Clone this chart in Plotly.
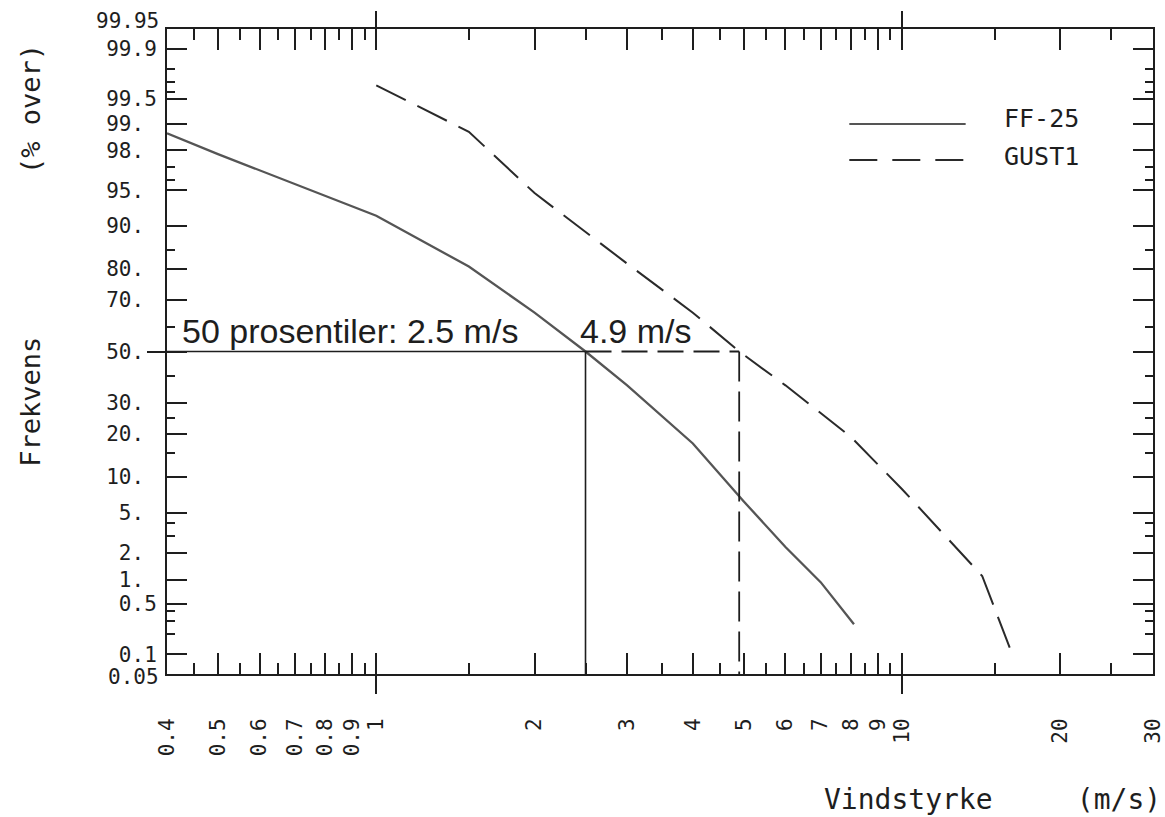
import math
from statistics import NormalDist
import plotly.graph_objects as go

# Wind speed (m/s) against exceedance frequency (% over)
ff25_speed = [0.4, 0.5, 1.0, 1.5, 2.0, 2.5, 3.0, 4.0, 5.0, 6.0, 7.0, 8.1]
ff25_over = [98.7, 97.8, 91.7, 80.7, 65.4, 50.0, 36.5, 17.4, 6.3, 2.3, 0.93, 0.27]

gust_speed = [1.0, 1.5, 2.0, 3.0, 4.0, 4.9, 6.0, 8.0, 10.0, 12.0, 14.2, 16.2]
gust_over = [99.67, 98.75, 94.7, 81.5, 65.4, 50.0, 36.5, 19.1, 8.0, 3.1, 1.1, 0.1]

# 50th percentiles
median_level = 50.0
ff25_median = 2.5
gust_median = 4.9

# Probability axis ticks
y_ticks = [99.95, 99.9, 99.5, 99, 98, 95, 90, 80, 70, 50, 30, 20, 10, 5, 2, 1, 0.5, 0.1, 0.05]
y_ticktext = ["99.95", "99.9", "99.5", "99.", "98.", "95.", "90.", "80.", "70.", "50.",
              "30.", "20.", "10.", "5.", "2.", "1.", "0.5", "0.1", "0.05"]
y_minor = [99.8, 99.7, 99.6, 97, 96, 85, 60, 40, 25, 15, 4, 3, 0.4, 0.3, 0.2]

# Logarithmic wind speed axis ticks
x_ticks = [0.4, 0.5, 0.6, 0.7, 0.8, 0.9, 1, 2, 3, 4, 5, 6, 7, 8, 9, 10, 20, 30]
x_ticktext = ["0.4", "0.5", "0.6", "0.7", "0.8", "0.9", "1", "2", "3", "4", "5", "6",
              "7", "8", "9", "10", "20", "30"]
x_minor = [0.45, 0.55, 0.65, 0.75, 0.85, 0.95, 1.5, 2.5, 3.5, 4.5, 5.5, 6.5, 7.5,
           8.5, 9.5, 15, 25]
x_decades = [1, 10]

nd = NormalDist()


def probit(p):
    return nd.inv_cdf(p / 100.0)


def probit_list(values):
    return [probit(v) for v in values]


INK = "#1e1e1e"
PLOT_FONT = "DejaVu Sans Mono"
NB = "\u00a0"
EPS = 1e-6

y_lo, y_hi = probit(0.05), probit(99.95)
x_range = [math.log10(0.4) - EPS, math.log10(30) + EPS]
y_range = [y_lo - EPS, y_hi + EPS]


def cell_label(text):
    # labels ending in a decimal point keep a blank cell after the point
    return text + NB if text.endswith(".") else text


# the two end labels sit just off the frame and are placed separately
end_labels = {y_ticks[0]: y_ticktext[0], y_ticks[-1]: y_ticktext[-1]}
axis_ticktext = ["" if v in end_labels else cell_label(t) for v, t in zip(y_ticks, y_ticktext)]

fig = go.Figure()

fig.add_trace(go.Scatter(
    x=ff25_speed, y=probit_list(ff25_over), mode="lines", name="FF-25",
    line=dict(color="#555555", width=2.3), showlegend=False,
))
fig.add_trace(go.Scatter(
    x=gust_speed, y=probit_list(gust_over), mode="lines", name="GUST1",
    line=dict(color="#2a2a2a", width=2, dash="33px,13px"), showlegend=False,
))

# Guide lines for the 50 % level
z50 = probit(median_level)
fig.add_trace(go.Scatter(x=[0.4, ff25_median], y=[z50, z50], mode="lines",
                         line=dict(color=INK, width=1.6), showlegend=False, hoverinfo="skip"))
fig.add_trace(go.Scatter(x=[ff25_median, ff25_median], y=[z50, y_lo], mode="lines",
                         line=dict(color=INK, width=1.6), showlegend=False, hoverinfo="skip"))
fig.add_trace(go.Scatter(x=[ff25_median, gust_median], y=[z50, z50], mode="lines",
                         line=dict(color=INK, width=1.8, dash="26px,10px"),
                         showlegend=False, hoverinfo="skip"))
fig.add_trace(go.Scatter(x=[gust_median, gust_median], y=[z50, y_lo], mode="lines",
                         line=dict(color=INK, width=1.8, dash="30px,10px"),
                         showlegend=False, hoverinfo="skip"))

# Invisible anchors so the extra tick axes are drawn
for xa, ya in [("x2", "y"), ("x3", "y"), ("x", "y2")]:
    fig.add_trace(go.Scatter(x=[1], y=[z50], xaxis=xa, yaxis=ya, mode="markers",
                             marker=dict(opacity=0), showlegend=False, hoverinfo="skip"))

tick_font = dict(family=PLOT_FONT, size=21, color=INK)

common_x = dict(type="log", range=x_range, autorange=False, showgrid=False,
                zeroline=False, automargin=False)
common_y = dict(range=y_range, autorange=False, showgrid=False, zeroline=False,
                automargin=False)

fig.update_layout(
    width=1165, height=817,
    margin=dict(l=167, r=12, t=29, b=143, autoexpand=False),
    paper_bgcolor="white", plot_bgcolor="white",
    xaxis=dict(
        **common_x,
        tickmode="array", tickvals=x_ticks, ticktext=x_ticktext,
        ticks="inside", ticklen=21, tickwidth=2, tickcolor=INK,
        tickangle=-90, tickfont=tick_font, ticklabelstandoff=34,
        ticklabeloverflow="allow",
        showline=True, linecolor=INK, linewidth=2, mirror="ticks",
        minor=dict(tickmode="array", tickvals=x_minor, ticks="inside",
                   ticklen=11, tickwidth=2, tickcolor=INK),
    ),
    xaxis2=dict(
        **common_x, overlaying="x", side="bottom", anchor="y",
        tickmode="array", tickvals=x_decades, ticks="outside", ticklen=19,
        tickwidth=2, tickcolor=INK, showticklabels=False, showline=False,
    ),
    xaxis3=dict(
        **common_x, overlaying="x", side="top", anchor="y",
        tickmode="array", tickvals=x_decades, ticks="outside", ticklen=17,
        tickwidth=2, tickcolor=INK, showticklabels=False, showline=False,
    ),
    yaxis=dict(
        **common_y,
        tickmode="array", tickvals=probit_list(y_ticks), ticktext=axis_ticktext,
        ticks="inside", ticklen=20, tickwidth=2, tickcolor=INK,
        tickfont=tick_font, ticklabelstandoff=4, ticklabeloverflow="allow",
        showline=True, linecolor=INK, linewidth=2, mirror="ticks",
        minor=dict(tickmode="array", tickvals=probit_list(y_minor), ticks="inside",
                   ticklen=8, tickwidth=2, tickcolor=INK),
    ),
    yaxis2=dict(
        **common_y, overlaying="y", side="left", anchor="x",
        tickmode="array", tickvals=[z50], ticks="outside", ticklen=19,
        tickwidth=2, tickcolor=INK, showticklabels=False, showline=False,
    ),
)

# End labels of the probability axis
for value, shift in [(y_ticks[0], 8), (y_ticks[-1], -3)]:
    fig.add_annotation(x=0, y=probit(value), xref="paper", yref="y",
                       text=end_labels[value], showarrow=False,
                       xanchor="right", yanchor="middle", xshift=-6, yshift=shift,
                       font=tick_font)

# Annotations for the medians
label_font = dict(family="Liberation Sans, Arial, sans-serif", size=34, color=INK)
fig.add_annotation(x=math.log10(0.424), y=z50, xref="x", yref="y",
                   text=f"50 prosentiler: {ff25_median} m/s", showarrow=False,
                   xanchor="left", yanchor="bottom", yshift=0, font=label_font)
fig.add_annotation(x=math.log10(2.42), y=z50, xref="x", yref="y",
                   text=f"{gust_median} m/s", showarrow=False,
                   xanchor="left", yanchor="bottom", yshift=0, font=label_font)

# Axis titles
fig.add_annotation(x=-0.138, y=0.65, xref="paper", yref="paper",
                   text="Frekvens" + NB * 10 + "(%" + NB + "over)", textangle=-90,
                   showarrow=False, xanchor="center", yanchor="middle",
                   font=dict(family=PLOT_FONT, size=27, color=INK))
fig.add_annotation(x=1.01, y=-0.195, xref="paper", yref="paper",
                   text="Vindstyrke" + NB * 5 + "(m/s)", showarrow=False,
                   xanchor="right", yanchor="middle",
                   font=dict(family=PLOT_FONT, size=28, color=INK))

# Legend drawn as line samples with labels
legend_font = dict(family=PLOT_FONT, size=25, color=INK)
legend_rows = [("FF-25", "solid", "#555555", 0.8527, 0.862),
               ("GUST1", "28px,15px", "#2a2a2a", 0.797, 0.8016)]
for name, dash, color, y_line, y_text in legend_rows:
    fig.add_shape(type="line", xref="paper", yref="paper",
                  x0=0.692, x1=0.81, y0=y_line, y1=y_line,
                  line=dict(color=color, width=2, dash=dash))
    fig.add_annotation(x=0.847, y=y_text, xref="paper", yref="paper", text=name,
                       showarrow=False, xanchor="left", yanchor="middle",
                       font=legend_font)

fig.write_html("out.html")
